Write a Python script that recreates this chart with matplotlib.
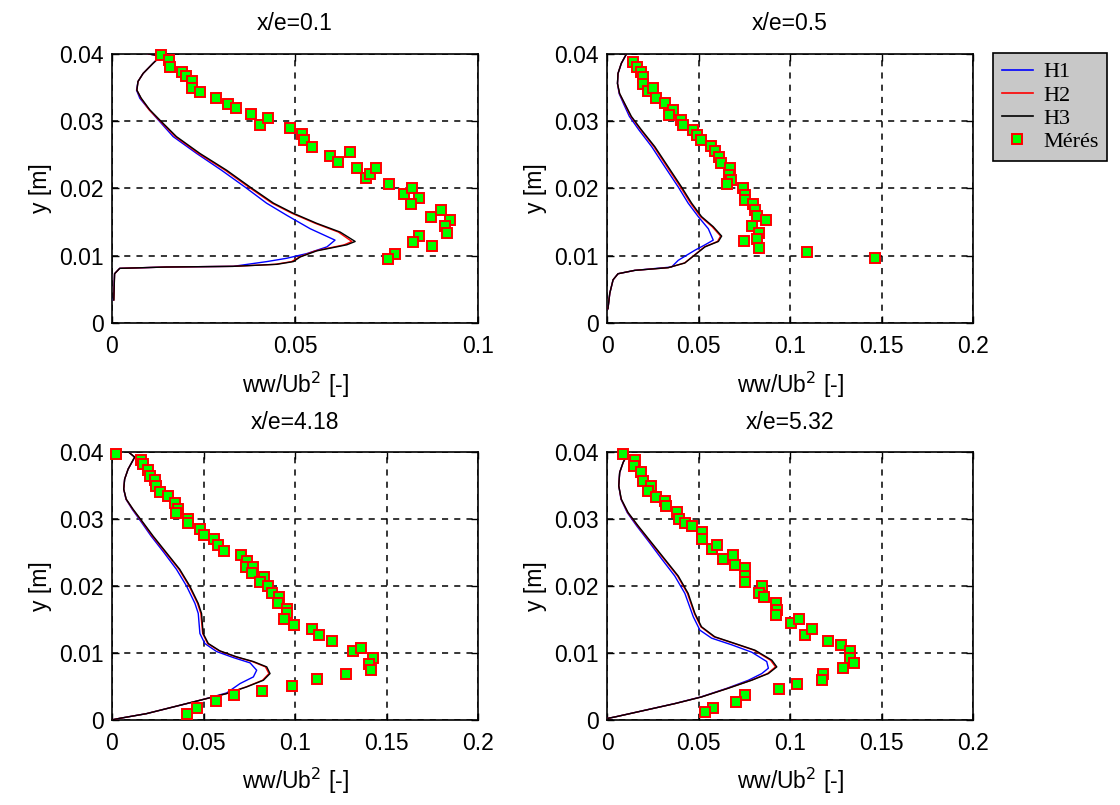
import matplotlib
matplotlib.use('Agg')
import matplotlib.pyplot as plt
from matplotlib.lines import Line2D

plt.rcParams['font.family'] = ['Liberation Sans', 'DejaVu Sans']

# ---- x/e = 0.1 ----
m1_w = [0.0135, 0.0155, 0.0158, 0.0190, 0.0202, 0.0219, 0.0218, 0.0240, 0.0284, 0.0316,
        0.0338, 0.0379, 0.0405, 0.0427, 0.0487, 0.0518, 0.0525, 0.0547, 0.0596, 0.0617,
        0.0651, 0.0668, 0.0693, 0.0705, 0.0721, 0.0755, 0.0797, 0.0820, 0.0839, 0.0817,
        0.0870, 0.0897, 0.0924, 0.0909, 0.0915, 0.0838, 0.0821, 0.0874, 0.0772, 0.0753]
m1_y = [0.0398, 0.0391, 0.0380, 0.0373, 0.0367, 0.0359, 0.0349, 0.0343, 0.0334, 0.0326,
        0.0319, 0.0311, 0.0295, 0.0305, 0.0290, 0.0281, 0.0272, 0.0262, 0.0248, 0.0239,
        0.0254, 0.0231, 0.0216, 0.0221, 0.0231, 0.0206, 0.0192, 0.0200, 0.0186, 0.0177,
        0.0158, 0.0168, 0.0153, 0.0144, 0.0134, 0.0129, 0.0120, 0.0114, 0.0102, 0.0095]
h3_1_w = [0.0099, 0.0133, 0.0112, 0.0085, 0.0071, 0.0068, 0.0080, 0.0103, 0.0130, 0.0176,
          0.0240, 0.0313, 0.0377, 0.0441, 0.0495, 0.0559, 0.0623, 0.0664, 0.0641, 0.0559,
          0.0514, 0.0495, 0.0450, 0.0331, 0.0149, 0.0021, 0.0007, 0.0005]
h3_1_y = [0.0400, 0.0397, 0.0386, 0.0371, 0.0359, 0.0346, 0.0334, 0.0317, 0.0302, 0.0277,
          0.0252, 0.0227, 0.0202, 0.0178, 0.0163, 0.0148, 0.0135, 0.0121, 0.0116, 0.0107,
          0.0098, 0.0091, 0.0087, 0.0084, 0.0083, 0.0081, 0.0073, 0.0034]
h2_1_w = [0.0099, 0.0133, 0.0112, 0.0085, 0.0071, 0.0068, 0.0079, 0.0101, 0.0128, 0.0173,
          0.0236, 0.0309, 0.0373, 0.0437, 0.0491, 0.0555, 0.0618, 0.0655, 0.0634, 0.0555,
          0.0512, 0.0490, 0.0445, 0.0331, 0.0149, 0.0021, 0.0007, 0.0005]
h2_1_y = h3_1_y
h1_1_w = [0.0099, 0.0133, 0.0112, 0.0085, 0.0071, 0.0067, 0.0076, 0.0094, 0.0126, 0.0167,
          0.0231, 0.0299, 0.0363, 0.0422, 0.0477, 0.0541, 0.0609, 0.0587, 0.0532, 0.0477,
          0.0422, 0.0331, 0.0149, 0.0021, 0.0007, 0.0004]
h1_1_y = [0.0400, 0.0397, 0.0386, 0.0371, 0.0359, 0.0346, 0.0334, 0.0322, 0.0302, 0.0277,
          0.0252, 0.0227, 0.0202, 0.0178, 0.0160, 0.0140, 0.0123, 0.0113, 0.0103, 0.0096,
          0.0091, 0.0084, 0.0083, 0.0081, 0.0073, 0.0034]

# ---- x/e = 0.5 ----
m2_w = [0.0142, 0.0164, 0.0188, 0.0197, 0.0197, 0.0224, 0.0252, 0.0270, 0.0316, 0.0361,
        0.0338, 0.0403, 0.0416, 0.0467, 0.0489, 0.0513, 0.0568, 0.0589, 0.0611, 0.0622,
        0.0672, 0.0668, 0.0675, 0.0653, 0.0745, 0.0754, 0.0754, 0.0799, 0.0808, 0.0818,
        0.0867, 0.0794, 0.0830, 0.0821, 0.0750, 0.0830, 0.1093, 0.1462]
m2_y = [0.0388, 0.0381, 0.0373, 0.0365, 0.0355, 0.0345, 0.0349, 0.0335, 0.0327, 0.0317,
        0.0309, 0.0302, 0.0295, 0.0287, 0.0279, 0.0272, 0.0263, 0.0255, 0.0247, 0.0238,
        0.0230, 0.0220, 0.0213, 0.0206, 0.0200, 0.0190, 0.0182, 0.0177, 0.0168, 0.0159,
        0.0153, 0.0144, 0.0134, 0.0124, 0.0121, 0.0111, 0.0105, 0.0096]
h3_2_w = [0.0106, 0.0078, 0.0060, 0.0057, 0.0069, 0.0097, 0.0133, 0.0188, 0.0261, 0.0334,
          0.0407, 0.0462, 0.0516, 0.0580, 0.0626, 0.0608, 0.0535, 0.0480, 0.0425, 0.0334,
          0.0151, 0.0060, 0.0033, 0.0015, 0.0005]
h3_2_y = [0.0400, 0.0386, 0.0371, 0.0356, 0.0341, 0.0326, 0.0307, 0.0287, 0.0262, 0.0232,
          0.0202, 0.0178, 0.0158, 0.0143, 0.0129, 0.0121, 0.0113, 0.0101, 0.0089, 0.0082,
          0.0078, 0.0073, 0.0064, 0.0044, 0.0021]
h2_2_w = [0.0106, 0.0078, 0.0060, 0.0057, 0.0068, 0.0095, 0.0130, 0.0184, 0.0256, 0.0328,
          0.0401, 0.0456, 0.0510, 0.0574, 0.0620, 0.0603, 0.0532, 0.0478, 0.0423, 0.0334,
          0.0151, 0.0060, 0.0033, 0.0015, 0.0005]
h2_2_y = h3_2_y
h1_2_w = [0.0106, 0.0078, 0.0060, 0.0057, 0.0066, 0.0090, 0.0122, 0.0174, 0.0244, 0.0316,
          0.0389, 0.0443, 0.0498, 0.0553, 0.0580, 0.0535, 0.0480, 0.0389, 0.0352, 0.0151,
          0.0060, 0.0033, 0.0015, 0.0005]
h1_2_y = [0.0400, 0.0386, 0.0371, 0.0356, 0.0341, 0.0326, 0.0307, 0.0287, 0.0262, 0.0232,
          0.0202, 0.0178, 0.0158, 0.0140, 0.0123, 0.0116, 0.0108, 0.0093, 0.0083, 0.0078,
          0.0073, 0.0064, 0.0044, 0.0021]

# ---- x/e = 4.18 ----
m3_w = [0.0020, 0.0161, 0.0170, 0.0197, 0.0206, 0.0234, 0.0243, 0.0261, 0.0307, 0.0343,
        0.0361, 0.0349, 0.0416, 0.0416, 0.0480, 0.0502, 0.0557, 0.0577, 0.0611, 0.0703,
        0.0735, 0.0730, 0.0768, 0.0766, 0.0830, 0.0810, 0.0854, 0.0876, 0.0912, 0.0909,
        0.0954, 0.0954, 0.0940, 0.0996, 0.1093, 0.1128, 0.1204, 0.1314, 0.1359, 0.1425,
        0.1401, 0.1414, 0.1279, 0.1119, 0.0984, 0.0821, 0.0668, 0.0566, 0.0462, 0.0407]
m3_y = [0.0397, 0.0389, 0.0382, 0.0374, 0.0365, 0.0359, 0.0350, 0.0340, 0.0335, 0.0325,
        0.0316, 0.0309, 0.0301, 0.0295, 0.0286, 0.0277, 0.0271, 0.0262, 0.0253, 0.0247,
        0.0237, 0.0229, 0.0229, 0.0220, 0.0214, 0.0206, 0.0200, 0.0189, 0.0183, 0.0174,
        0.0166, 0.0159, 0.0151, 0.0142, 0.0135, 0.0127, 0.0118, 0.0103, 0.0108, 0.0093,
        0.0084, 0.0074, 0.0069, 0.0061, 0.0051, 0.0043, 0.0037, 0.0028, 0.0018, 0.0009]
h3_3_w = [0.0097, 0.0124, 0.0088, 0.0069, 0.0064, 0.0078, 0.0115, 0.0170, 0.0224, 0.0297,
          0.0370, 0.0425, 0.0471, 0.0489, 0.0498, 0.0526, 0.0589, 0.0681, 0.0772, 0.0845,
          0.0863, 0.0827, 0.0735, 0.0626, 0.0480, 0.0334, 0.0188, 0.0042, 0.0005]
h3_3_y = [0.0399, 0.0393, 0.0375, 0.0360, 0.0345, 0.0330, 0.0315, 0.0295, 0.0275, 0.0250,
          0.0225, 0.0200, 0.0174, 0.0159, 0.0129, 0.0114, 0.0103, 0.0094, 0.0087, 0.0079,
          0.0069, 0.0059, 0.0049, 0.0039, 0.0029, 0.0019, 0.0009, 0.0002, 0.0000]
h2_3_w = [0.0097, 0.0124, 0.0088, 0.0069, 0.0064, 0.0077, 0.0113, 0.0167, 0.0220, 0.0293,
          0.0366, 0.0421, 0.0467, 0.0485, 0.0495, 0.0522, 0.0585, 0.0676, 0.0766, 0.0838,
          0.0857, 0.0822, 0.0732, 0.0624, 0.0479, 0.0334, 0.0188, 0.0042, 0.0005]
h2_3_y = h3_3_y
h1_3_w = [0.0097, 0.0124, 0.0088, 0.0069, 0.0064, 0.0076, 0.0110, 0.0162, 0.0213, 0.0284,
          0.0352, 0.0407, 0.0453, 0.0471, 0.0480, 0.0507, 0.0571, 0.0662, 0.0754, 0.0790,
          0.0772, 0.0699, 0.0626, 0.0480, 0.0334, 0.0188, 0.0042, 0.0005]
h1_3_y = [0.0399, 0.0393, 0.0375, 0.0360, 0.0345, 0.0330, 0.0315, 0.0295, 0.0275, 0.0250,
          0.0225, 0.0200, 0.0174, 0.0159, 0.0129, 0.0114, 0.0102, 0.0093, 0.0085, 0.0074,
          0.0064, 0.0054, 0.0040, 0.0029, 0.0019, 0.0009, 0.0002, 0.0000]

# ---- x/e = 5.32 ----
m4_w = [0.0088, 0.0151, 0.0148, 0.0188, 0.0197, 0.0239, 0.0224, 0.0270, 0.0316, 0.0321,
        0.0383, 0.0392, 0.0425, 0.0462, 0.0516, 0.0516, 0.0575, 0.0602, 0.0635, 0.0690,
        0.0699, 0.0754, 0.0754, 0.0754, 0.0845, 0.0830, 0.0858, 0.0922, 0.0927, 0.0922,
        0.1005, 0.1051, 0.1082, 0.1119, 0.1204, 0.1279, 0.1328, 0.1328, 0.1347, 0.1288,
        0.1179, 0.1173, 0.1036, 0.0940, 0.0754, 0.0703, 0.0580, 0.0535]
m4_y = [0.0397, 0.0389, 0.0380, 0.0371, 0.0357, 0.0350, 0.0342, 0.0334, 0.0327, 0.0320,
        0.0311, 0.0301, 0.0295, 0.0290, 0.0281, 0.0271, 0.0256, 0.0262, 0.0241, 0.0247,
        0.0232, 0.0227, 0.0215, 0.0206, 0.0200, 0.0189, 0.0184, 0.0174, 0.0164, 0.0157,
        0.0145, 0.0150, 0.0127, 0.0135, 0.0118, 0.0112, 0.0103, 0.0092, 0.0085, 0.0078,
        0.0069, 0.0060, 0.0054, 0.0046, 0.0037, 0.0027, 0.0018, 0.0012]
h3_4_w = [0.0115, 0.0088, 0.0069, 0.0064, 0.0078, 0.0115, 0.0170, 0.0243, 0.0316, 0.0389,
          0.0443, 0.0480, 0.0516, 0.0589, 0.0699, 0.0808, 0.0900, 0.0927, 0.0881, 0.0790,
          0.0662, 0.0516, 0.0370, 0.0206, 0.0042, 0.0005]
h3_4_y = [0.0399, 0.0385, 0.0370, 0.0350, 0.0330, 0.0310, 0.0290, 0.0265, 0.0240, 0.0215,
          0.0189, 0.0159, 0.0139, 0.0124, 0.0114, 0.0104, 0.0089, 0.0079, 0.0069, 0.0059,
          0.0047, 0.0034, 0.0024, 0.0014, 0.0004, 0.0002]
h2_4_w = [0.0115, 0.0088, 0.0069, 0.0064, 0.0077, 0.0113, 0.0167, 0.0239, 0.0312, 0.0385,
          0.0439, 0.0477, 0.0512, 0.0584, 0.0694, 0.0802, 0.0893, 0.0920, 0.0876, 0.0787,
          0.0660, 0.0515, 0.0370, 0.0206, 0.0042, 0.0005]
h2_4_y = h3_4_y
h1_4_w = [0.0115, 0.0088, 0.0069, 0.0064, 0.0076, 0.0110, 0.0162, 0.0232, 0.0300, 0.0370,
          0.0425, 0.0471, 0.0507, 0.0571, 0.0681, 0.0790, 0.0872, 0.0881, 0.0845, 0.0772,
          0.0655, 0.0512, 0.0368, 0.0205, 0.0042, 0.0005]
h1_4_y = [0.0399, 0.0385, 0.0370, 0.0350, 0.0330, 0.0310, 0.0290, 0.0265, 0.0240, 0.0215,
          0.0189, 0.0154, 0.0134, 0.0122, 0.0112, 0.0101, 0.0087, 0.0077, 0.0069, 0.0059,
          0.0047, 0.0034, 0.0024, 0.0014, 0.0004, 0.0002]

titles = ['x/e=0.1', 'x/e=0.5', 'x/e=4.18', 'x/e=5.32']
xmax = [0.1, 0.2, 0.2, 0.2]
yticks = [0, 0.01, 0.02, 0.03, 0.04]
ytick_labels = ['0', '0.01', '0.02', '0.03', '0.04']

panels = [
    (m1_w, m1_y, h1_1_w, h1_1_y, h2_1_w, h2_1_y, h3_1_w, h3_1_y),
    (m2_w, m2_y, h1_2_w, h1_2_y, h2_2_w, h2_2_y, h3_2_w, h3_2_y),
    (m3_w, m3_y, h1_3_w, h1_3_y, h2_3_w, h2_3_y, h3_3_w, h3_3_y),
    (m4_w, m4_y, h1_4_w, h1_4_y, h2_4_w, h2_4_y, h3_4_w, h3_4_y),
]

# axes rectangles in figure fractions
rects = [[0.100, 0.599, 0.327, 0.334],
         [0.542, 0.599, 0.327, 0.334],
         [0.100, 0.106, 0.327, 0.332],
         [0.542, 0.106, 0.327, 0.332]]

fig = plt.figure(figsize=(11.2, 8.05), dpi=100)
fs = 16.5

for i in range(4):
    mw, my, w1, y1, w2, y2, w3, y3 = panels[i]
    ax = fig.add_axes(rects[i])
    ax.plot(w1, y1, color='#0000ff', lw=1.0, zorder=3)
    ax.plot(w2, y2, color='#ff0000', lw=1.0, zorder=3)
    ax.plot(w3, y3, color='black', lw=1.0, zorder=3)
    ax.plot(mw, my, ls='none', marker='s', ms=6.5, mfc='#00ff00', mec='#ff0000',
            mew=1.4, zorder=4, clip_on=False)
    ax.set_xlim(0, xmax[i])
    ax.set_ylim(0, 0.04)
    if xmax[i] == 0.1:
        ax.set_xticks([0, 0.05, 0.1])
        ax.set_xticklabels(['0', '0.05', '0.1'])
    else:
        ax.set_xticks([0, 0.05, 0.1, 0.15, 0.2])
        ax.set_xticklabels(['0', '0.05', '0.1', '0.15', '0.2'])
    ax.set_yticks(yticks)
    ax.set_yticklabels(ytick_labels)
    ax.tick_params(direction='in', top=True, right=True, length=5, width=1,
                   labelsize=fs)
    ax.tick_params(axis='x', pad=9)
    ax.tick_params(axis='y', pad=6)
    ax.grid(True, color='black', ls=(0, (4, 4)), lw=1.1)
    for s in ax.spines.values():
        s.set_linewidth(1.2)
    ax.set_title(titles[i], fontsize=fs, pad=17)
    ax.set_xlabel('ww/Ub$^2$ [-]', fontsize=fs, labelpad=8)
    ax.set_ylabel('y [m]', fontsize=fs, labelpad=5)

handles = [Line2D([], [], color='#0000ff', lw=1.2),
           Line2D([], [], color='#ff0000', lw=1.2),
           Line2D([], [], color='black', lw=1.2),
           Line2D([], [], ls='none', marker='s', ms=6.5, mfc='#00ff00',
                  mec='#ff0000', mew=1.4)]
leg = fig.legend(handles, ['H1', 'H2', 'H3', 'Mérés'], loc='upper left',
                 bbox_to_anchor=(993 / 1120, 1 - 53 / 805), borderaxespad=0,
                 fancybox=False, framealpha=1, edgecolor='black',
                 facecolor='#c8c8c8', handlelength=1.4, handletextpad=0.45,
                 labelspacing=0.12, borderpad=0.4,
                 prop={'family': 'Liberation Serif', 'size': 16})
leg.get_frame().set_linewidth(1.2)

fig.savefig('out.png', dpi=100)
